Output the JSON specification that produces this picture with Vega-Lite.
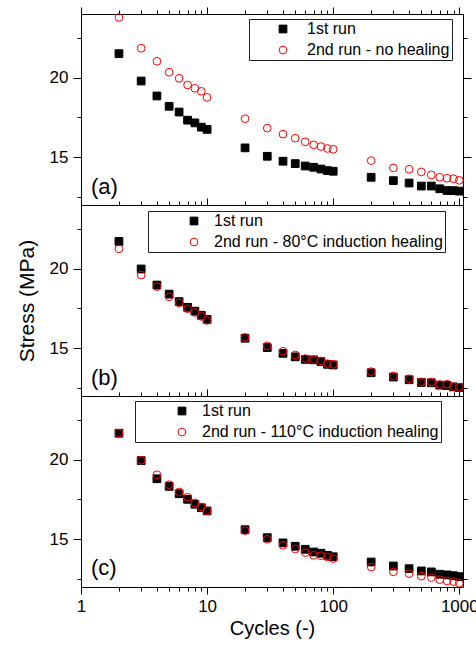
{
  "$schema": "https://vega.github.io/schema/vega-lite/v6.json",
  "padding": {"left": 16, "top": 6, "right": 5, "bottom": 5},
  "spacing": 0,
  "bounds": "flush",
  "resolve": {"scale": {"shape": "independent", "fill": "independent", "stroke": "independent"}, "legend": {"shape": "independent", "fill": "independent", "stroke": "independent"}},
  "config": {
    "view": {"stroke": null},
    "font": "Liberation Sans",
    "axis": {"grid": false, "domainColor": "#000000", "domainWidth": 1, "tickColor": "#000000", "tickWidth": 1, "labelColor": "#000000", "titleColor": "#000000", "labelFont": "Liberation Sans", "titleFont": "Liberation Sans", "labelFontSize": 17, "titleFontWeight": "normal", "labelOverlap": false, "labelFlush": false},
    "legend": {"orient": "none", "title": null, "strokeColor": "#222222", "padding": 2, "labelFont": "Liberation Sans", "labelFontSize": 16, "labelLimit": 400, "labelColor": "#000000", "symbolSize": 60, "symbolStrokeWidth": 1, "rowPadding": 5}
  },
  "datasets": {
    "a": [
      {"cycles": 2, "stress": 21.51, "series": "1st run"},
      {"cycles": 3, "stress": 19.79, "series": "1st run"},
      {"cycles": 4, "stress": 18.85, "series": "1st run"},
      {"cycles": 5, "stress": 18.2, "series": "1st run"},
      {"cycles": 6, "stress": 17.84, "series": "1st run"},
      {"cycles": 7, "stress": 17.33, "series": "1st run"},
      {"cycles": 8, "stress": 17.16, "series": "1st run"},
      {"cycles": 9, "stress": 16.89, "series": "1st run"},
      {"cycles": 10, "stress": 16.75, "series": "1st run"},
      {"cycles": 20, "stress": 15.59, "series": "1st run"},
      {"cycles": 30, "stress": 15.06, "series": "1st run"},
      {"cycles": 40, "stress": 14.75, "series": "1st run"},
      {"cycles": 50, "stress": 14.6, "series": "1st run"},
      {"cycles": 60, "stress": 14.45, "series": "1st run"},
      {"cycles": 70, "stress": 14.37, "series": "1st run"},
      {"cycles": 80, "stress": 14.26, "series": "1st run"},
      {"cycles": 90, "stress": 14.16, "series": "1st run"},
      {"cycles": 100, "stress": 14.12, "series": "1st run"},
      {"cycles": 200, "stress": 13.74, "series": "1st run"},
      {"cycles": 300, "stress": 13.53, "series": "1st run"},
      {"cycles": 400, "stress": 13.38, "series": "1st run"},
      {"cycles": 500, "stress": 13.19, "series": "1st run"},
      {"cycles": 600, "stress": 13.19, "series": "1st run"},
      {"cycles": 700, "stress": 13.02, "series": "1st run"},
      {"cycles": 800, "stress": 12.91, "series": "1st run"},
      {"cycles": 900, "stress": 12.9, "series": "1st run"},
      {"cycles": 1000, "stress": 12.87, "series": "1st run"},
      {"cycles": 2, "stress": 23.78, "series": "2nd run - no healing"},
      {"cycles": 3, "stress": 21.85, "series": "2nd run - no healing"},
      {"cycles": 4, "stress": 21.03, "series": "2nd run - no healing"},
      {"cycles": 5, "stress": 20.34, "series": "2nd run - no healing"},
      {"cycles": 6, "stress": 19.96, "series": "2nd run - no healing"},
      {"cycles": 7, "stress": 19.54, "series": "2nd run - no healing"},
      {"cycles": 8, "stress": 19.33, "series": "2nd run - no healing"},
      {"cycles": 9, "stress": 19.14, "series": "2nd run - no healing"},
      {"cycles": 10, "stress": 18.76, "series": "2nd run - no healing"},
      {"cycles": 20, "stress": 17.42, "series": "2nd run - no healing"},
      {"cycles": 30, "stress": 16.83, "series": "2nd run - no healing"},
      {"cycles": 40, "stress": 16.45, "series": "2nd run - no healing"},
      {"cycles": 50, "stress": 16.2, "series": "2nd run - no healing"},
      {"cycles": 60, "stress": 15.97, "series": "2nd run - no healing"},
      {"cycles": 70, "stress": 15.78, "series": "2nd run - no healing"},
      {"cycles": 80, "stress": 15.67, "series": "2nd run - no healing"},
      {"cycles": 90, "stress": 15.55, "series": "2nd run - no healing"},
      {"cycles": 100, "stress": 15.5, "series": "2nd run - no healing"},
      {"cycles": 200, "stress": 14.79, "series": "2nd run - no healing"},
      {"cycles": 300, "stress": 14.33, "series": "2nd run - no healing"},
      {"cycles": 400, "stress": 14.25, "series": "2nd run - no healing"},
      {"cycles": 500, "stress": 14.08, "series": "2nd run - no healing"},
      {"cycles": 600, "stress": 13.89, "series": "2nd run - no healing"},
      {"cycles": 700, "stress": 13.74, "series": "2nd run - no healing"},
      {"cycles": 800, "stress": 13.68, "series": "2nd run - no healing"},
      {"cycles": 900, "stress": 13.65, "series": "2nd run - no healing"},
      {"cycles": 1000, "stress": 13.55, "series": "2nd run - no healing"}
    ],
    "b": [
      {"cycles": 2, "stress": 21.71, "series": "1st run"},
      {"cycles": 3, "stress": 19.98, "series": "1st run"},
      {"cycles": 4, "stress": 18.97, "series": "1st run"},
      {"cycles": 5, "stress": 18.4, "series": "1st run"},
      {"cycles": 6, "stress": 17.93, "series": "1st run"},
      {"cycles": 7, "stress": 17.57, "series": "1st run"},
      {"cycles": 8, "stress": 17.33, "series": "1st run"},
      {"cycles": 9, "stress": 17.07, "series": "1st run"},
      {"cycles": 10, "stress": 16.81, "series": "1st run"},
      {"cycles": 20, "stress": 15.63, "series": "1st run"},
      {"cycles": 30, "stress": 15.04, "series": "1st run"},
      {"cycles": 40, "stress": 14.68, "series": "1st run"},
      {"cycles": 50, "stress": 14.46, "series": "1st run"},
      {"cycles": 60, "stress": 14.3, "series": "1st run"},
      {"cycles": 70, "stress": 14.27, "series": "1st run"},
      {"cycles": 80, "stress": 14.16, "series": "1st run"},
      {"cycles": 90, "stress": 13.99, "series": "1st run"},
      {"cycles": 100, "stress": 13.95, "series": "1st run"},
      {"cycles": 200, "stress": 13.46, "series": "1st run"},
      {"cycles": 300, "stress": 13.19, "series": "1st run"},
      {"cycles": 400, "stress": 13.02, "series": "1st run"},
      {"cycles": 500, "stress": 12.85, "series": "1st run"},
      {"cycles": 600, "stress": 12.83, "series": "1st run"},
      {"cycles": 700, "stress": 12.68, "series": "1st run"},
      {"cycles": 800, "stress": 12.66, "series": "1st run"},
      {"cycles": 900, "stress": 12.57, "series": "1st run"},
      {"cycles": 1000, "stress": 12.53, "series": "1st run"},
      {"cycles": 2, "stress": 21.25, "series": "2nd run - 80°C induction healing"},
      {"cycles": 3, "stress": 19.6, "series": "2nd run - 80°C induction healing"},
      {"cycles": 4, "stress": 18.87, "series": "2nd run - 80°C induction healing"},
      {"cycles": 5, "stress": 18.23, "series": "2nd run - 80°C induction healing"},
      {"cycles": 6, "stress": 17.85, "series": "2nd run - 80°C induction healing"},
      {"cycles": 7, "stress": 17.48, "series": "2nd run - 80°C induction healing"},
      {"cycles": 8, "stress": 17.25, "series": "2nd run - 80°C induction healing"},
      {"cycles": 9, "stress": 17.0, "series": "2nd run - 80°C induction healing"},
      {"cycles": 10, "stress": 16.75, "series": "2nd run - 80°C induction healing"},
      {"cycles": 20, "stress": 15.68, "series": "2nd run - 80°C induction healing"},
      {"cycles": 30, "stress": 15.15, "series": "2nd run - 80°C induction healing"},
      {"cycles": 40, "stress": 14.81, "series": "2nd run - 80°C induction healing"},
      {"cycles": 50, "stress": 14.58, "series": "2nd run - 80°C induction healing"},
      {"cycles": 60, "stress": 14.35, "series": "2nd run - 80°C induction healing"},
      {"cycles": 70, "stress": 14.28, "series": "2nd run - 80°C induction healing"},
      {"cycles": 80, "stress": 14.2, "series": "2nd run - 80°C induction healing"},
      {"cycles": 90, "stress": 14.03, "series": "2nd run - 80°C induction healing"},
      {"cycles": 100, "stress": 13.99, "series": "2nd run - 80°C induction healing"},
      {"cycles": 200, "stress": 13.53, "series": "2nd run - 80°C induction healing"},
      {"cycles": 300, "stress": 13.25, "series": "2nd run - 80°C induction healing"},
      {"cycles": 400, "stress": 13.08, "series": "2nd run - 80°C induction healing"},
      {"cycles": 500, "stress": 12.89, "series": "2nd run - 80°C induction healing"},
      {"cycles": 600, "stress": 12.87, "series": "2nd run - 80°C induction healing"},
      {"cycles": 700, "stress": 12.72, "series": "2nd run - 80°C induction healing"},
      {"cycles": 800, "stress": 12.74, "series": "2nd run - 80°C induction healing"},
      {"cycles": 900, "stress": 12.59, "series": "2nd run - 80°C induction healing"},
      {"cycles": 1000, "stress": 12.56, "series": "2nd run - 80°C induction healing"}
    ],
    "c": [
      {"cycles": 2, "stress": 21.66, "series": "1st run"},
      {"cycles": 3, "stress": 19.94, "series": "1st run"},
      {"cycles": 4, "stress": 18.8, "series": "1st run"},
      {"cycles": 5, "stress": 18.32, "series": "1st run"},
      {"cycles": 6, "stress": 17.86, "series": "1st run"},
      {"cycles": 7, "stress": 17.51, "series": "1st run"},
      {"cycles": 8, "stress": 17.2, "series": "1st run"},
      {"cycles": 9, "stress": 16.98, "series": "1st run"},
      {"cycles": 10, "stress": 16.78, "series": "1st run"},
      {"cycles": 20, "stress": 15.6, "series": "1st run"},
      {"cycles": 30, "stress": 15.1, "series": "1st run"},
      {"cycles": 40, "stress": 14.77, "series": "1st run"},
      {"cycles": 50, "stress": 14.56, "series": "1st run"},
      {"cycles": 60, "stress": 14.37, "series": "1st run"},
      {"cycles": 70, "stress": 14.2, "series": "1st run"},
      {"cycles": 80, "stress": 14.12, "series": "1st run"},
      {"cycles": 90, "stress": 13.99, "series": "1st run"},
      {"cycles": 100, "stress": 13.9, "series": "1st run"},
      {"cycles": 200, "stress": 13.57, "series": "1st run"},
      {"cycles": 300, "stress": 13.32, "series": "1st run"},
      {"cycles": 400, "stress": 13.15, "series": "1st run"},
      {"cycles": 500, "stress": 13.01, "series": "1st run"},
      {"cycles": 600, "stress": 12.95, "series": "1st run"},
      {"cycles": 700, "stress": 12.8, "series": "1st run"},
      {"cycles": 800, "stress": 12.76, "series": "1st run"},
      {"cycles": 900, "stress": 12.71, "series": "1st run"},
      {"cycles": 1000, "stress": 12.65, "series": "1st run"},
      {"cycles": 2, "stress": 21.66, "series": "2nd run - 110°C induction healing"},
      {"cycles": 3, "stress": 19.96, "series": "2nd run - 110°C induction healing"},
      {"cycles": 4, "stress": 19.05, "series": "2nd run - 110°C induction healing"},
      {"cycles": 5, "stress": 18.43, "series": "2nd run - 110°C induction healing"},
      {"cycles": 6, "stress": 17.97, "series": "2nd run - 110°C induction healing"},
      {"cycles": 7, "stress": 17.64, "series": "2nd run - 110°C induction healing"},
      {"cycles": 8, "stress": 17.28, "series": "2nd run - 110°C induction healing"},
      {"cycles": 9, "stress": 17.03, "series": "2nd run - 110°C induction healing"},
      {"cycles": 10, "stress": 16.78, "series": "2nd run - 110°C induction healing"},
      {"cycles": 20, "stress": 15.54, "series": "2nd run - 110°C induction healing"},
      {"cycles": 30, "stress": 15.0, "series": "2nd run - 110°C induction healing"},
      {"cycles": 40, "stress": 14.62, "series": "2nd run - 110°C induction healing"},
      {"cycles": 50, "stress": 14.39, "series": "2nd run - 110°C induction healing"},
      {"cycles": 60, "stress": 14.16, "series": "2nd run - 110°C induction healing"},
      {"cycles": 70, "stress": 13.99, "series": "2nd run - 110°C induction healing"},
      {"cycles": 80, "stress": 13.97, "series": "2nd run - 110°C induction healing"},
      {"cycles": 90, "stress": 13.89, "series": "2nd run - 110°C induction healing"},
      {"cycles": 100, "stress": 13.78, "series": "2nd run - 110°C induction healing"},
      {"cycles": 200, "stress": 13.26, "series": "2nd run - 110°C induction healing"},
      {"cycles": 300, "stress": 12.95, "series": "2nd run - 110°C induction healing"},
      {"cycles": 400, "stress": 12.84, "series": "2nd run - 110°C induction healing"},
      {"cycles": 500, "stress": 12.68, "series": "2nd run - 110°C induction healing"},
      {"cycles": 600, "stress": 12.59, "series": "2nd run - 110°C induction healing"},
      {"cycles": 700, "stress": 12.46, "series": "2nd run - 110°C induction healing"},
      {"cycles": 800, "stress": 12.38, "series": "2nd run - 110°C induction healing"},
      {"cycles": 900, "stress": 12.34, "series": "2nd run - 110°C induction healing"},
      {"cycles": 1000, "stress": 12.24, "series": "2nd run - 110°C induction healing"}
    ]
  },
  "vconcat": [
    {
      "width": 382, "height": 191,
      "resolve": {"axis": {"x": "independent", "y": "independent"}},
      "layer": [
        {
          "data": {"name": "a"},
          "mark": {"type": "point", "size": 60, "strokeWidth": 1, "opacity": 1},
          "encoding": {
            "x": {"field": "cycles", "type": "quantitative", "scale": {"type": "log", "domain": [1, 1070]}, "axis": null},
            "y": {"field": "stress", "type": "quantitative", "scale": {"domain": [12, 24], "nice": false, "zero": false}, "axis": {"values": [12.5, 15, 17.5, 20, 22.5], "labelExpr": "datum.value % 5 == 0 ? datum.label : ''", "tickSize": {"condition": {"test": "datum.value % 5 == 0", "value": 8}, "value": 4}, "labelPadding": 5, "title": null}},
            "shape": {"field": "series", "type": "nominal", "scale": {"domain": ["1st run", "2nd run - no healing"], "range": ["square", "circle"]}, "legend": {"legendX": 168, "legendY": 5, "symbolOffset": 24, "labelOffset": 16, "encode": {"entries": {"update": {"width": {"value": 203}}}}}},
            "fill": {"field": "series", "type": "nominal", "scale": {"domain": ["1st run", "2nd run - no healing"], "range": ["#000000", "transparent"]}},
            "stroke": {"field": "series", "type": "nominal", "scale": {"domain": ["1st run", "2nd run - no healing"], "range": ["#000000", "#ff0000"]}}
          }
        },
        {
          "data": {"values": [{"cycles": 1.2, "stress": 13.15, "label": "(a)"}]},
          "mark": {"type": "text", "align": "left", "baseline": "middle", "fontSize": 22, "font": "Liberation Sans", "color": "#000000"},
          "encoding": {
            "x": {"field": "cycles", "type": "quantitative", "scale": {"type": "log", "domain": [1, 1070]}, "axis": {"orient": "top", "values": [1, 2, 3, 4, 5, 6, 7, 8, 9, 10, 20, 30, 40, 50, 60, 70, 80, 90, 100, 200, 300, 400, 500, 600, 700, 800, 900, 1000], "labels": false, "tickSize": {"condition": {"test": "indexof([1,10,100,1000], datum.value) >= 0", "value": 7}, "value": 4}, "title": null}},
            "y": {"field": "stress", "type": "quantitative", "scale": {"domain": [12, 24], "nice": false, "zero": false}, "axis": {"orient": "right", "values": [12.5, 15, 17.5, 20, 22.5], "labels": false, "tickSize": {"condition": {"test": "datum.value % 5 == 0", "value": 8}, "value": 4}, "title": null}},
            "text": {"field": "label"}
          }
        }
      ]
    },
    {
      "width": 382, "height": 191,
      "resolve": {"axis": {"x": "independent", "y": "independent"}},
      "layer": [
        {
          "data": {"name": "b"},
          "mark": {"type": "point", "size": 60, "strokeWidth": 1, "opacity": 1},
          "encoding": {
            "x": {"field": "cycles", "type": "quantitative", "scale": {"type": "log", "domain": [1, 1070]}, "axis": null},
            "y": {"field": "stress", "type": "quantitative", "scale": {"domain": [12, 24], "nice": false, "zero": false}, "axis": {"values": [12.5, 15, 17.5, 20, 22.5], "labelExpr": "datum.value % 5 == 0 ? datum.label : ''", "tickSize": {"condition": {"test": "datum.value % 5 == 0", "value": 8}, "value": 4}, "labelPadding": 5, "title": "Stress (MPa)", "titleFontSize": 21, "titlePadding": 12}},
            "shape": {"field": "series", "type": "nominal", "scale": {"domain": ["1st run", "2nd run - 80°C induction healing"], "range": ["square", "circle"]}, "legend": {"legendX": 67, "legendY": 6, "symbolOffset": 36, "labelOffset": 12, "encode": {"entries": {"update": {"width": {"value": 306}}}}}},
            "fill": {"field": "series", "type": "nominal", "scale": {"domain": ["1st run", "2nd run - 80°C induction healing"], "range": ["#000000", "transparent"]}},
            "stroke": {"field": "series", "type": "nominal", "scale": {"domain": ["1st run", "2nd run - 80°C induction healing"], "range": ["#000000", "#ff0000"]}}
          }
        },
        {
          "data": {"values": [{"cycles": 1.2, "stress": 13.1, "label": "(b)"}]},
          "mark": {"type": "text", "align": "left", "baseline": "middle", "fontSize": 22, "font": "Liberation Sans", "color": "#000000"},
          "encoding": {
            "x": {"field": "cycles", "type": "quantitative", "scale": {"type": "log", "domain": [1, 1070]}, "axis": {"orient": "top", "values": [1, 2, 3, 4, 5, 6, 7, 8, 9, 10, 20, 30, 40, 50, 60, 70, 80, 90, 100, 200, 300, 400, 500, 600, 700, 800, 900, 1000], "labels": false, "tickSize": {"condition": {"test": "indexof([1,10,100,1000], datum.value) >= 0", "value": 7}, "value": 4}, "title": null}},
            "y": {"field": "stress", "type": "quantitative", "scale": {"domain": [12, 24], "nice": false, "zero": false}, "axis": {"orient": "right", "values": [12.5, 15, 17.5, 20, 22.5], "labels": false, "tickSize": {"condition": {"test": "datum.value % 5 == 0", "value": 8}, "value": 4}, "title": null}},
            "text": {"field": "label"}
          }
        }
      ]
    },
    {
      "width": 382, "height": 191,
      "resolve": {"axis": {"x": "independent", "y": "independent"}},
      "layer": [
        {
          "data": {"name": "c"},
          "mark": {"type": "point", "size": 60, "strokeWidth": 1, "opacity": 1},
          "encoding": {
            "x": {"field": "cycles", "type": "quantitative", "scale": {"type": "log", "domain": [1, 1070]}, "axis": {"orient": "bottom", "values": [1, 2, 3, 4, 5, 6, 7, 8, 9, 10, 20, 30, 40, 50, 60, 70, 80, 90, 100, 200, 300, 400, 500, 600, 700, 800, 900, 1000], "labelExpr": "indexof([1,10,100,1000], datum.value) >= 0 ? format(datum.value, 'd') : ''", "tickSize": {"condition": {"test": "indexof([1,10,100,1000], datum.value) >= 0", "value": 7}, "value": 4}, "labelPadding": 4, "title": "Cycles (-)", "titleFontSize": 20, "titlePadding": 4}},
            "y": {"field": "stress", "type": "quantitative", "scale": {"domain": [12, 24], "nice": false, "zero": false}, "axis": {"values": [12.5, 15, 17.5, 20, 22.5], "labelExpr": "datum.value % 5 == 0 ? datum.label : ''", "tickSize": {"condition": {"test": "datum.value % 5 == 0", "value": 8}, "value": 4}, "labelPadding": 5, "title": null}},
            "shape": {"field": "series", "type": "nominal", "scale": {"domain": ["1st run", "2nd run - 110°C induction healing"], "range": ["square", "circle"]}, "legend": {"legendX": 54, "legendY": 5, "symbolOffset": 37, "labelOffset": 12, "encode": {"entries": {"update": {"width": {"value": 318}}}}}},
            "fill": {"field": "series", "type": "nominal", "scale": {"domain": ["1st run", "2nd run - 110°C induction healing"], "range": ["#000000", "transparent"]}},
            "stroke": {"field": "series", "type": "nominal", "scale": {"domain": ["1st run", "2nd run - 110°C induction healing"], "range": ["#000000", "#ff0000"]}}
          }
        },
        {
          "data": {"values": [{"cycles": 1.2, "stress": 13.2, "label": "(c)"}]},
          "mark": {"type": "text", "align": "left", "baseline": "middle", "fontSize": 22, "font": "Liberation Sans", "color": "#000000"},
          "encoding": {
            "x": {"field": "cycles", "type": "quantitative", "scale": {"type": "log", "domain": [1, 1070]}, "axis": {"orient": "top", "values": [1, 2, 3, 4, 5, 6, 7, 8, 9, 10, 20, 30, 40, 50, 60, 70, 80, 90, 100, 200, 300, 400, 500, 600, 700, 800, 900, 1000], "labels": false, "tickSize": {"condition": {"test": "indexof([1,10,100,1000], datum.value) >= 0", "value": 7}, "value": 4}, "title": null}},
            "y": {"field": "stress", "type": "quantitative", "scale": {"domain": [12, 24], "nice": false, "zero": false}, "axis": {"orient": "right", "values": [12.5, 15, 17.5, 20, 22.5], "labels": false, "tickSize": {"condition": {"test": "datum.value % 5 == 0", "value": 8}, "value": 4}, "title": null}},
            "text": {"field": "label"}
          }
        }
      ]
    }
  ]
}
